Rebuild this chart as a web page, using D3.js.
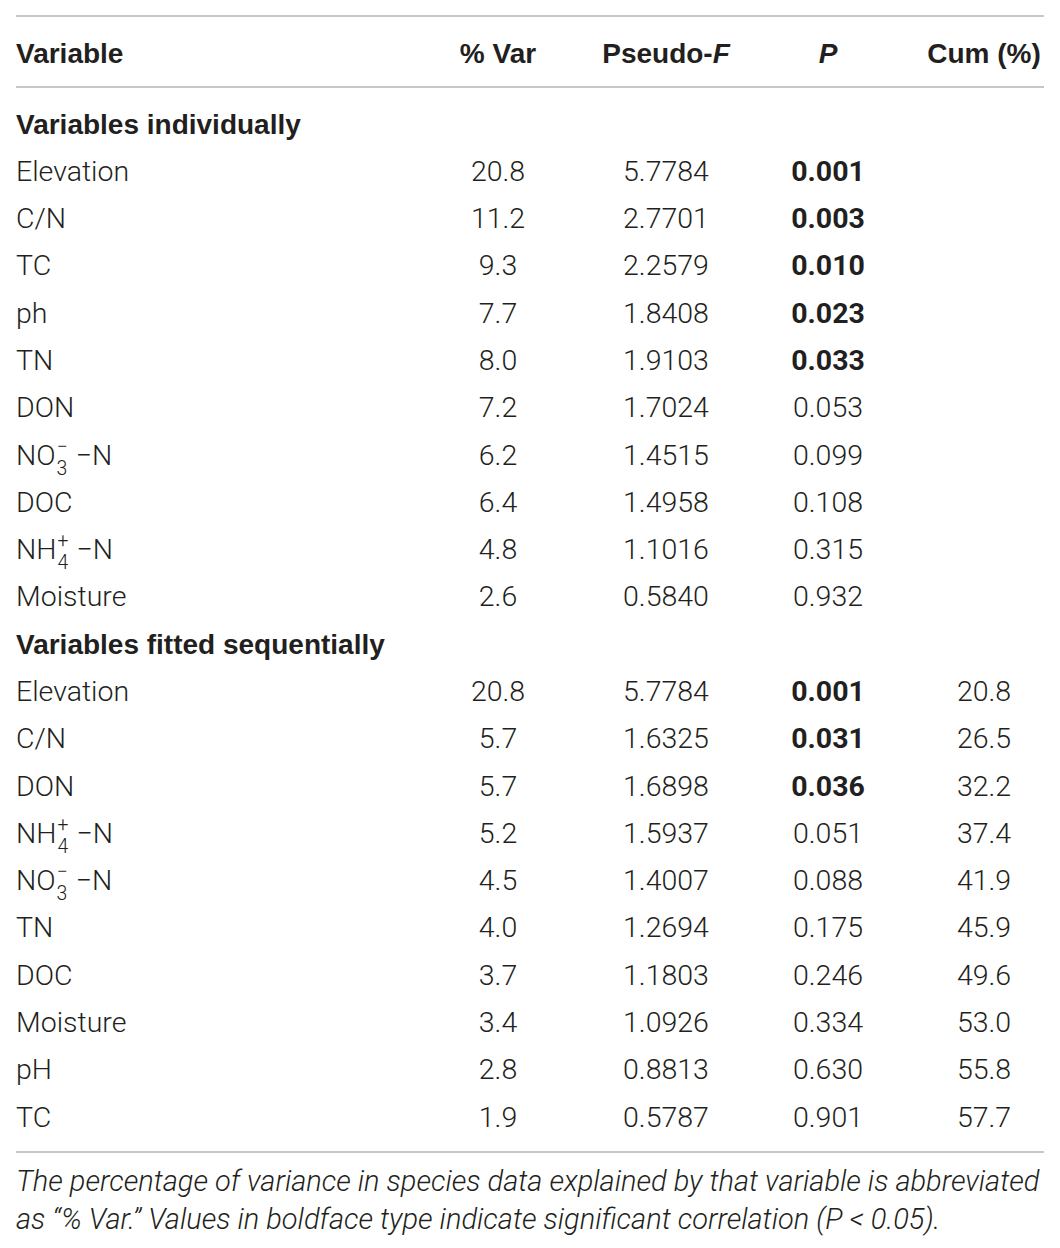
<!DOCTYPE html>
<html>
<head>
<meta charset="utf-8">
<script src="https://cdn.jsdelivr.net/npm/d3@7"></script>
<style>
  html, body { margin: 0; padding: 0; background: #fff; }
  svg text { font-family: Roboto, "Liberation Sans", sans-serif; fill: #231f20; }
  svg text.heading { font-family: "Liberation Sans", Arial, sans-serif; font-weight: 700; }
</style>
</head>
<body>
<div id="table"></div>
<script>
// --- Data ---
const headers = ["Variable", "% Var", "Pseudo-F", "P", "Cum (%)"];
const sections = ["Variables individually", "Variables fitted sequentially"];

const indivVars = ["Elevation", "C/N", "TC", "ph", "TN", "DON", "NO3-N", "DOC", "NH4-N", "Moisture"];
const indivPctVar = [20.8, 11.2, 9.3, 7.7, 8.0, 7.2, 6.2, 6.4, 4.8, 2.6];
const indivPseudoF = [5.7784, 2.7701, 2.2579, 1.8408, 1.9103, 1.7024, 1.4515, 1.4958, 1.1016, 0.5840];
const indivP = [0.001, 0.003, 0.010, 0.023, 0.033, 0.053, 0.099, 0.108, 0.315, 0.932];

const seqVars = ["Elevation", "C/N", "DON", "NH4-N", "NO3-N", "TN", "DOC", "Moisture", "pH", "TC"];
const seqPctVar = [20.8, 5.7, 5.7, 5.2, 4.5, 4.0, 3.7, 3.4, 2.8, 1.9];
const seqPseudoF = [5.7784, 1.6325, 1.6898, 1.5937, 1.4007, 1.2694, 1.1803, 1.0926, 0.8813, 0.5787];
const seqP = [0.001, 0.031, 0.036, 0.051, 0.088, 0.175, 0.246, 0.334, 0.630, 0.901];
const seqCum = [20.8, 26.5, 32.2, 37.4, 41.9, 45.9, 49.6, 53.0, 55.8, 57.7];

const footnote = [
    "The percentage of variance in species data explained by that variable is abbreviated",
    "as \u201c% Var.\u201d Values in boldface type indicate significant correlation (P < 0.05)."
];

// ion labels with stacked super/subscripts
const ions = {
    "NO3-N": { base: "NO", sup: "\u2212", sub: "3", tail: "\u2212N" },
    "NH4-N": { base: "NH", sup: "+", sub: "4", tail: "\u2212N" }
};

const alpha = 0.05;

// --- Build row list ---
const rows = [];
rows.push({ type: "section", label: sections[0] });
indivVars.forEach((v, i) => rows.push({
    type: "data", label: v, pct: indivPctVar[i], f: indivPseudoF[i], p: indivP[i], cum: null
}));
rows.push({ type: "section", label: sections[1] });
seqVars.forEach((v, i) => rows.push({
    type: "data", label: v, pct: seqPctVar[i], f: seqPseudoF[i], p: seqP[i], cum: seqCum[i]
}));

// --- Layout ---
const width = 1060, height = 1248;
const left = 16, right = 1044;
const fontSize = 28.5;
const headSize = 28;
const baselineShift = 10.5;

const x = d3.scaleOrdinal()
    .domain(["pct", "f", "p", "cum"])
    .range([498, 666, 828, 984]);

const y = d3.scaleLinear()
    .domain([0, rows.length - 1])
    .range([123, 1116]);

const svg = d3.select("#table").append("svg")
    .attr("width", width)
    .attr("height", height)
    .attr("viewBox", [0, 0, width, height]);

// rules
const ruleColor = "#b5b5b5";
[16, 87, 1152].forEach(ry => {
    svg.append("line")
        .attr("x1", left).attr("x2", right)
        .attr("y1", ry).attr("y2", ry)
        .attr("stroke", ruleColor)
        .attr("stroke-width", 1.5);
});

// --- Header ---
const headY = 52 + baselineShift;
const head = svg.append("g").attr("font-size", headSize);
head.append("text").attr("class", "heading").attr("x", left).attr("y", headY).text(headers[0]);
head.append("text").attr("class", "heading").attr("x", x("pct")).attr("y", headY)
    .attr("text-anchor", "middle").text(headers[1]);
const pf = head.append("text").attr("class", "heading").attr("x", x("f")).attr("y", headY)
    .attr("text-anchor", "middle");
pf.append("tspan").text("Pseudo-");
pf.append("tspan").attr("font-style", "italic").text("F");
head.append("text").attr("class", "heading").attr("x", x("p")).attr("y", headY)
    .attr("text-anchor", "middle").attr("font-style", "italic").text(headers[3]);
head.append("text").attr("class", "heading").attr("x", x("cum")).attr("y", headY)
    .attr("text-anchor", "middle").text(headers[4]);

// --- Body ---
const body = svg.append("g").attr("font-size", fontSize);

const row = body.selectAll("g.row")
    .data(rows)
    .join("g")
    .attr("class", "row")
    .attr("transform", (d, i) => `translate(0,${y(i) + baselineShift})`);

// section headings
row.filter(d => d.type === "section")
    .append("text")
    .attr("class", "heading")
    .attr("x", left)
    .attr("font-size", headSize)
    .text(d => d.label);

const dataRows = row.filter(d => d.type === "data");

// variable labels (ions get stacked super/subscript)
dataRows.each(function(d) {
    const g = d3.select(this);
    const ion = ions[d.label];
    if (!ion) {
        g.append("text").attr("x", left).attr("font-weight", 300).text(d.label);
        return;
    }
    const base = g.append("text").attr("x", left).attr("font-weight", 300).text(ion.base);
    const bw = base.node().getComputedTextLength();
    const small = fontSize * 0.68;
    const sup = g.append("text").attr("x", left + bw + 1).attr("y", -12)
        .attr("font-size", small).attr("font-weight", 300).text(ion.sup);
    const sub = g.append("text").attr("x", left + bw + 1).attr("y", 10)
        .attr("font-size", small).attr("font-weight", 300).text(ion.sub);
    const sw = Math.max(sup.node().getComputedTextLength(), sub.node().getComputedTextLength());
    g.append("text").attr("x", left + bw + 1 + sw + 8).attr("font-weight", 300).text(ion.tail);
});

const cells = [
    { key: "pct", fmt: d => d.pct.toFixed(1) },
    { key: "f", fmt: d => d.f.toFixed(4) },
    { key: "p", fmt: d => d.p.toFixed(3) },
    { key: "cum", fmt: d => d.cum == null ? "" : d.cum.toFixed(1) }
];

cells.forEach(c => {
    dataRows.append("text")
        .attr("x", x(c.key))
        .attr("text-anchor", "middle")
        .attr("font-weight", d => (c.key === "p" && d.p < alpha) ? 700 : 300)
        .text(c.fmt);
});

// --- Footnote ---
svg.append("g")
    .attr("font-size", 29)
    .attr("font-style", "italic")
    .attr("font-weight", 300)
    .selectAll("text")
    .data(footnote)
    .join("text")
    .attr("x", left)
    .attr("y", (d, i) => 1191 + i * 38)
    .text(d => d);
</script>
</body>
</html>
